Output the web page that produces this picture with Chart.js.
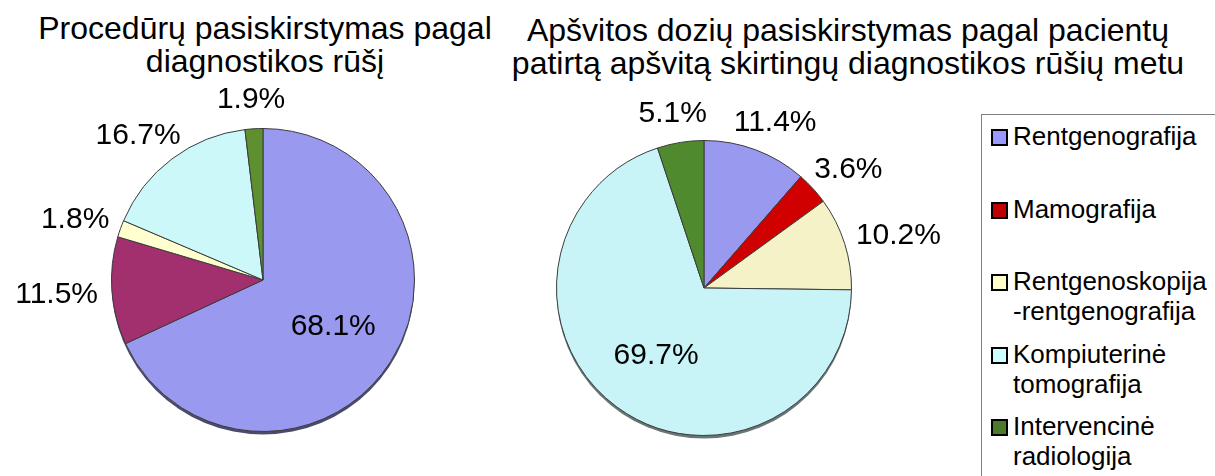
<!DOCTYPE html>
<html lang="lt">
<head>
<meta charset="utf-8">
<title>Procedūrų ir apšvitos dozių pasiskirstymas</title>
<script src="https://cdn.jsdelivr.net/npm/chart.js@4/dist/chart.umd.min.js"></script>
<style>
  html, body { margin: 0; padding: 0; background: #fff; overflow: hidden; }
  body { width: 1215px; height: 476px; position: relative; font-family: "Liberation Sans", Arial, sans-serif; color: #000; }
  .title { position: absolute; font-size: 32px; line-height: 33px; text-align: center; white-space: nowrap; width: 800px; }
  #title1 { left: -135px; top: 12px; }
  #title2 { left: 448px; top: 14px; }
  canvas { position: absolute; top: 0; }
  #ProcChart { left: 0; }
  #DoseChart { left: 500px; }
  #legend { position: absolute; left: 981px; top: 114px; width: 260px; height: 400px; border: 1px solid #808080; }
  .item { position: absolute; left: 0; height: 60px; font-size: 26px; line-height: 30px; }
  .swatch { position: absolute; left: 9px; top: 8px; width: 13px; height: 13px; border: 2px solid #000; }
  .text { position: absolute; left: 31px; top: 0; white-space: nowrap; }
</style>
</head>
<body>
<div class="title" id="title1">Procedūrų pasiskirstymas pagal<br>diagnostikos rūšį</div>
<div class="title" id="title2">Apšvitos dozių pasiskirstymas pagal pacientų<br>patirtą apšvitą skirtingų diagnostikos rūšių metu</div>
<canvas id="ProcChart" width="500" height="476"></canvas>
<canvas id="DoseChart" width="475" height="476"></canvas>
<div id="legend"></div>

<script>
(function () {
  "use strict";

  // Data
  const categories = [
    ['Rentgenografija'],
    ['Mamografija'],
    ['Rentgenoskopija', '-rentgenografija'],
    ['Kompiuterinė', 'tomografija'],
    ['Intervencinė', 'radiologija']
  ];
  const procedureShares = [68.1, 11.5, 1.8, 16.7, 1.9];
  const doseShares      = [11.4, 3.6, 10.2, 69.7, 5.1];

  // Colors
  const procColors   = ['#9999F0', '#A2306E', '#FFFFD0', '#CCF8FA', '#5E902F'];
  const doseColors   = ['#9999F0', '#D00000', '#F5F2C8', '#C8F4F8', '#4F8A2F'];
  const legendColors = ['#9999FF', '#C00000', '#FFFFCC', '#CCFFFF', '#4C7A2C'];

  // Percentage labels + a thin dark rim under the pie
  const pieLabels = {
    id: 'pieLabels',
    beforeDatasetsDraw(chart, args, opts) {
      const arc = chart.getDatasetMeta(0).data[0];
      if (!arc) return;
      const ctx = chart.ctx;
      ctx.save();
      ctx.beginPath();
      ctx.arc(arc.x, arc.y + 3, arc.outerRadius, 0, Math.PI * 2);
      ctx.fillStyle = opts.rim;
      ctx.fill();
      ctx.restore();
    },
    afterDatasetsDraw(chart) {
      const ctx = chart.ctx;
      const meta = chart.getDatasetMeta(0);
      const values = chart.data.datasets[0].data;
      ctx.save();
      ctx.font = '30px "Liberation Sans", Arial, sans-serif';
      ctx.fillStyle = '#000';
      ctx.textAlign = 'center';
      ctx.textBaseline = 'middle';
      meta.data.forEach(function (arc, i) {
        const p = arc.getProps(['x', 'y', 'startAngle', 'endAngle', 'outerRadius'], true);
        const mid = (p.startAngle + p.endAngle) / 2;
        const cos = Math.cos(mid);
        const sin = Math.sin(mid);
        const text = values[i].toFixed(1) + '%';
        let x, y;
        if (values[i] > 50) {
          x = p.x + cos * p.outerRadius * 0.55;
          y = p.y + sin * p.outerRadius * 0.55;
        } else {
          const w = ctx.measureText(text).width;
          x = p.x + cos * (p.outerRadius + 14) + cos * w / 2;
          y = p.y + sin * (p.outerRadius + 14) + sin * 17;
        }
        ctx.fillText(text, x, y + 2);
      });
      ctx.restore();
    }
  };

  function pieChart(id, values, colors, padding, rim) {
    const el = document.getElementById(id);
    if (el == null) return null;
    return new Chart(el.getContext('2d'), {
      type: 'pie',
      data: {
        labels: categories.map(function (c) { return c.join(' '); }),
        datasets: [{
          data: values,
          backgroundColor: colors,
          borderColor: '#3c3c3c',
          borderWidth: 1,
          hoverOffset: 0
        }]
      },
      options: {
        responsive: false,
        animation: false,
        layout: { padding: padding },
        plugins: {
          legend: { display: false },
          title: { display: false },
          tooltip: { enabled: false },
          pieLabels: { rim: rim }
        }
      },
      plugins: [pieLabels]
    });
  }

  pieChart('ProcChart', procedureShares, procColors,
    { left: 111, right: 85, top: 128, bottom: 44 }, 'rgba(30, 30, 70, 0.8)');
  pieChart('DoseChart', doseShares, doseColors,
    { left: 56, right: 123, top: 140, bottom: 40 }, 'rgba(40, 60, 60, 0.7)');

  // Legend
  const legend = document.getElementById('legend');
  categories.forEach(function (lines, i) {
    const item = document.createElement('div');
    item.className = 'item';
    item.style.top = (6 + i * 72.5) + 'px';
    const sw = document.createElement('div');
    sw.className = 'swatch';
    sw.style.background = legendColors[i];
    const tx = document.createElement('div');
    tx.className = 'text';
    tx.innerHTML = lines.join('<br>');
    item.appendChild(sw);
    item.appendChild(tx);
    legend.appendChild(item);
  });

})();
</script>
</body>
</html>
